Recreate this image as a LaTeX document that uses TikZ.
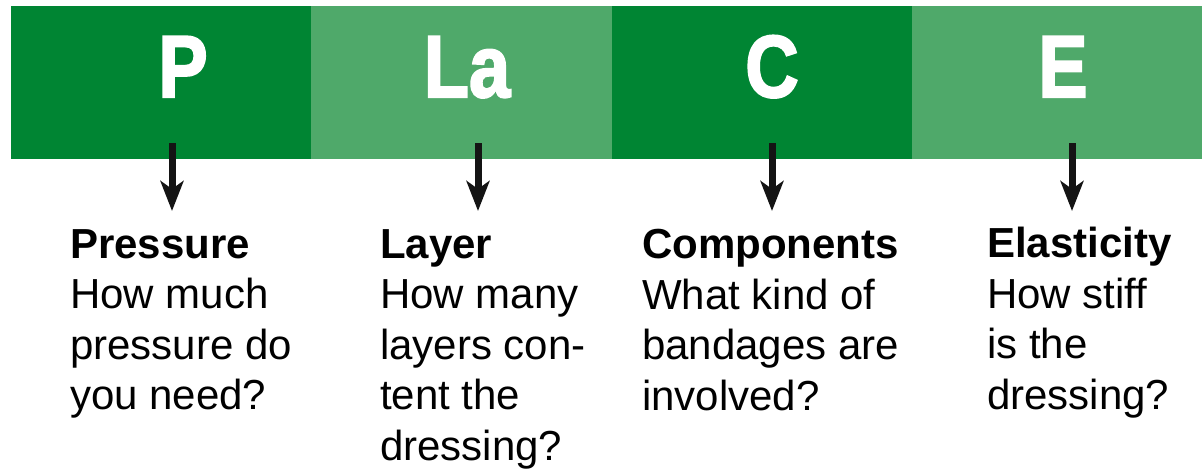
\documentclass[tikz,border=0pt]{standalone}
\usepackage{fontspec}
\setmainfont{Liberation Sans}
\newfontfamily\barfont[FakeBold=2.5]{Liberation Sans Bold}
\usetikzlibrary{arrows.meta}
\definecolor{dkgreen}{HTML}{008533}
\definecolor{ltgreen}{HTML}{4FA96A}
\definecolor{arrowblk}{HTML}{141414}
\begin{document}
\begin{tikzpicture}[x=1pt,y=-1pt,
  seg/.style={draw=none, inner sep=0, outer sep=0, anchor=north west, minimum height=153pt},
  letter/.style={text=white, inner sep=0, anchor=base, font=\fontsize{88}{88}\barfont},
  desc/.style={anchor=north west, inner sep=0, align=left, font=\fontsize{42}{50.5}\selectfont},
  pointer/.style={draw=arrowblk, line width=7pt, -{Stealth[length=30pt,width=23pt,inset=8pt]}}]
\useasboundingbox (0,0) rectangle (1202,471);
% bar segments
\node[seg, fill=dkgreen, minimum width=300pt] (s1) at (11,6) {};
\node[seg, fill=ltgreen, minimum width=301pt] (s2) at (311,6) {};
\node[seg, fill=dkgreen, minimum width=300pt] (s3) at (612,6) {};
\node[seg, fill=ltgreen, minimum width=290pt] (s4) at (912,6) {};
% letters
\node[letter] (lP) at (183,97) {\scalebox{0.84}[1]{P}};
\node[letter] (lLa) at (467,97) {\scalebox{0.84}[1]{La}};
\node[letter] (lC) at (772,97) {\scalebox{0.84}[1]{C}};
\node[letter] (lE) at (1063,97) {\scalebox{0.84}[1]{E}};
% arrows
\coordinate (a1s) at (172,143); \coordinate (a1e) at (172,211);
\coordinate (a2s) at (478,143); \coordinate (a2e) at (478,211);
\coordinate (a3s) at (772,143); \coordinate (a3e) at (772,211);
\coordinate (a4s) at (1072,143); \coordinate (a4e) at (1072,211);
\draw[pointer] (a1s) -- (a1e);
\draw[pointer] (a2s) -- (a2e);
\draw[pointer] (a3s) -- (a3e);
\draw[pointer] (a4s) -- (a4e);
% descriptions
\node[desc] (d1) at (70,229) {\textbf{Pressure}\\How much\\pressure do\\you need?};
\node[desc] (d2) at (380,229) {\textbf{Layer}\\How many\\layers con-\\tent the\\dressing?};
\node[desc] (d3) at (642,229) {\textbf{Components}\\What kind of\\bandages are\\involved?};
\node[desc] (d4) at (987,227) {\textbf{Elasticity}\\How stiff\\is the\\dressing?};
\end{tikzpicture}
\end{document}
